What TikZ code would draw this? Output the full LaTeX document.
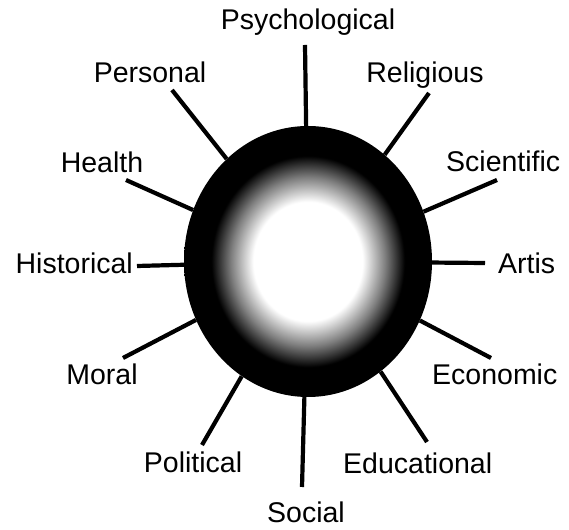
\documentclass[tikz,border=0pt]{standalone}
\usepackage{fontspec}
\setmainfont{Liberation Sans}
\usepackage{tikz}
\usetikzlibrary{shapes.geometric}
\pgfdeclareradialshading{sphereshade}{\pgfpointorigin}{%
  color(0bp)=(white); color(11bp)=(white); color(15.5bp)=(black!50);
  color(19.5bp)=(black); color(50bp)=(black)}
\begin{document}
\begin{tikzpicture}[x=1pt,y=1pt,font=\fontsize{28.5}{31}\selectfont,
  spoke/.style={line width=4.2pt},
  lab/.style={inner sep=0pt}]
\useasboundingbox (0,0) rectangle (569,529);
\node[ellipse,minimum width=248pt,minimum height=271pt,inner sep=0pt,
  shading=sphereshade] (core) at (308,267.5) {};
\foreach \nm/\ex/\ey/\lx/\ly/\anc/\txt in {
  psy/305/484/308/499/base/Psychological,
  rel/429/436/425/446/base/Religious,
  sci/497/349/446/357/base west/Scientific,
  art/485/266/498/255/base west/Artis,
  eco/491/171/432/144/base west/Economic,
  edu/427/87/343/55/base west/Educational,
  soc/302/42/306/7/base/Social,
  pol/202/84/193/56/base/Political,
  mor/123/171/102/144/base/Moral,
  his/137/263/133/255/base east/Historical,
  hea/126/349/102/356/base/Health,
  per/172/439/150/446/base/Personal} {
  \coordinate (end-\nm) at (\ex,\ey);
  \node[lab,anchor=\anc] (lab-\nm) at (\lx,\ly) {\txt};
  \draw[spoke] (core) -- (end-\nm);
}
\end{tikzpicture}
\end{document}
